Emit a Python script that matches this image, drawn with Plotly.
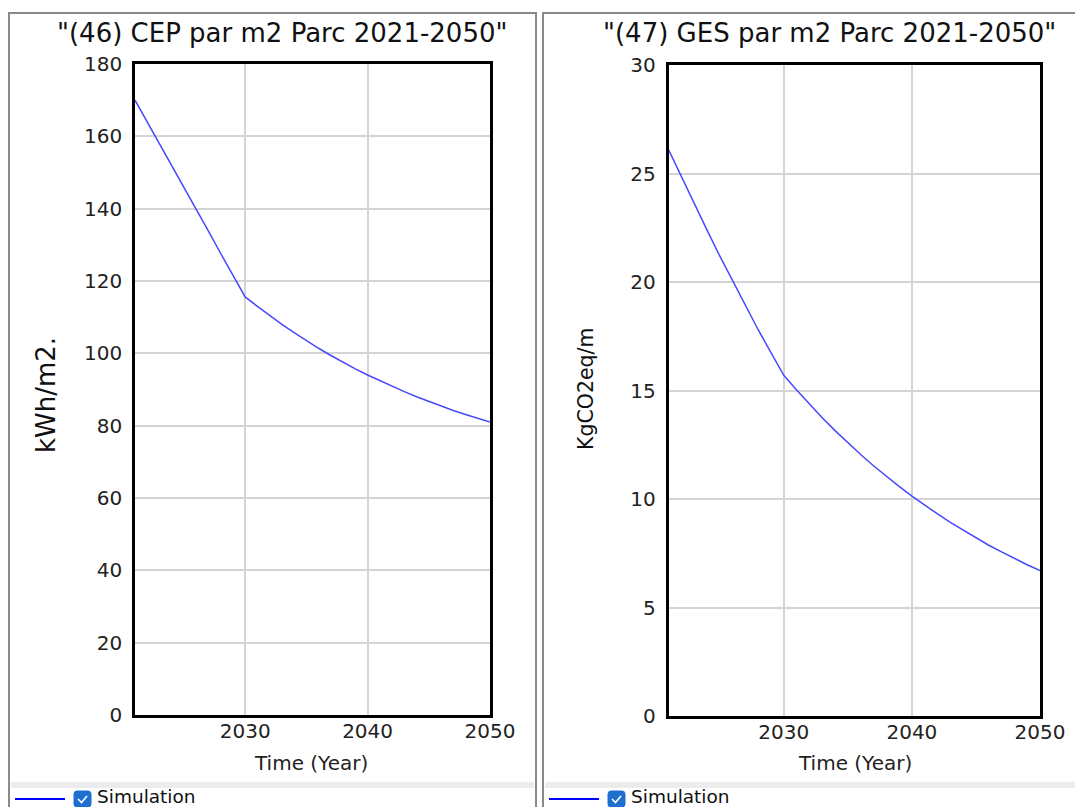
import plotly.graph_objects as go

# ---------------- data ----------------
years = list(range(2021, 2051))

cep_m2 = [170.0, 164.0, 158.0, 152.0, 146.2, 140.0, 133.8, 127.6, 121.5, 115.6,
          113.0, 110.4, 108.0, 105.7, 103.5, 101.4, 99.4, 97.5, 95.7, 94.0,
          92.4, 90.8, 89.4, 88.0, 86.7, 85.4, 84.2, 83.1, 82.0, 81.0]

ges_m2 = [26.1, 24.85, 23.6, 22.4, 21.2, 20.05, 18.9, 17.8, 16.75, 15.7,
          15.02, 14.36, 13.74, 13.15, 12.58, 12.05, 11.53, 11.04, 10.58, 10.13,
          9.71, 9.31, 8.92, 8.56, 8.21, 7.87, 7.56, 7.26, 6.97, 6.70]

titles = ['"(46) CEP par m2 Parc 2021-2050"', '"(47) GES par m2 Parc 2021-2050"']
y_titles = ["kWh/m2.", "KgCO2eq/m"]
x_title = "Time (Year)"
legend_label = "Simulation"
x_ticks = [2030, 2040, 2050]
y_ticks_cep = [0, 20, 40, 60, 80, 100, 120, 140, 160, 180]
y_ticks_ges = [0, 5, 10, 15, 20, 25, 30]

# ---------------- layout helpers ----------------
W, H = 1075, 807
FONT = "DejaVu Sans"


def px(x):
    return x / W


def py(y):
    return 1 - y / H


fig = go.Figure()

line_color = "rgb(72,72,255)"
fig.add_trace(go.Scatter(x=years, y=cep_m2, mode="lines", xaxis="x", yaxis="y",
                         line=dict(color=line_color, width=1.5), showlegend=False,
                         name=legend_label))
fig.add_trace(go.Scatter(x=years, y=ges_m2, mode="lines", xaxis="x2", yaxis="y2",
                         line=dict(color=line_color, width=1.5), showlegend=False,
                         name=legend_label))

axis_common = dict(
    showline=True, linecolor="black", linewidth=2.5, mirror=True,
    showgrid=True, gridcolor="#d4d4d4", gridwidth=1.5,
    zeroline=False, ticks="", automargin=False,
    tickfont=dict(family=FONT, size=20, color="#222222"),
)

fig.update_layout(
    width=W, height=H,
    margin=dict(l=0, r=0, t=0, b=0, pad=0, autoexpand=False),
    paper_bgcolor="white", plot_bgcolor="white",
    showlegend=False,
    xaxis=dict(domain=[px(135), px(490)], range=[2021, 2050], tickvals=x_ticks,
               anchor="y", ticklabelstandoff=-4, **axis_common),
    yaxis=dict(domain=[py(715), py(64)], range=[0, 180], tickvals=y_ticks_cep,
               anchor="x", ticklabelstandoff=6, **axis_common),
    xaxis2=dict(domain=[px(668.5), px(1040)], range=[2021, 2050], tickvals=x_ticks,
                anchor="y2", ticklabelstandoff=-4, **axis_common),
    yaxis2=dict(domain=[py(716), py(65)], range=[0, 30], tickvals=y_ticks_ges,
                anchor="x2", ticklabelstandoff=6, **axis_common),
)

shapes = []
annotations = []

panels = [
    dict(x0=9, x1=536, title_x=282, xt_x=311, yt_x=46, yt_y=395, yt_size=26, leg_x=15),
    dict(x0=543, x1=1090, title_x=829, xt_x=855, yt_x=586, yt_y=389, yt_size=20.5, leg_x=549),
]

for i, p in enumerate(panels):
    # panel frame
    shapes.append(dict(type="rect", xref="paper", yref="paper",
                       x0=px(p["x0"]), x1=px(p["x1"]), y0=py(830), y1=py(13),
                       line=dict(color="#8a8a8a", width=2), fillcolor="rgba(0,0,0,0)",
                       layer="below"))
    # legend separator band
    shapes.append(dict(type="rect", xref="paper", yref="paper",
                       x0=px(p["x0"] + 2), x1=px(p["x1"] - 2), y0=py(788), y1=py(782),
                       line=dict(width=0), fillcolor="#ececec", layer="below"))
    # legend line
    lx = p["leg_x"]
    shapes.append(dict(type="line", xref="paper", yref="paper",
                       x0=px(lx), x1=px(lx + 50), y0=py(799), y1=py(799),
                       line=dict(color="#0000ff", width=2)))
    # checkbox
    cx0, cx1, cy0, cy1, r = lx + 59, lx + 76, 791, 807, 3
    path = (f"M {px(cx0 + r)},{py(cy0)} L {px(cx1 - r)},{py(cy0)} "
            f"Q {px(cx1)},{py(cy0)} {px(cx1)},{py(cy0 + r)} "
            f"L {px(cx1)},{py(cy1 - r)} Q {px(cx1)},{py(cy1)} {px(cx1 - r)},{py(cy1)} "
            f"L {px(cx0 + r)},{py(cy1)} Q {px(cx0)},{py(cy1)} {px(cx0)},{py(cy1 - r)} "
            f"L {px(cx0)},{py(cy0 + r)} Q {px(cx0)},{py(cy0)} {px(cx0 + r)},{py(cy0)} Z")
    shapes.append(dict(type="path", xref="paper", yref="paper", path=path,
                       fillcolor="#1f6fd1", line=dict(color="#1f6fd1", width=1)))
    chk = (f"M {px(cx0 + 4)},{py(799)} L {px(cx0 + 7.5)},{py(802.5)} "
           f"L {px(cx0 + 13)},{py(796)}")
    shapes.append(dict(type="path", xref="paper", yref="paper", path=chk,
                       line=dict(color="white", width=1.6)))
    annotations.append(dict(xref="paper", yref="paper", x=px(lx + 82), y=py(807),
                            xanchor="left", yanchor="bottom", showarrow=False,
                            borderpad=0, borderwidth=0,
                            text=legend_label,
                            font=dict(family=FONT, size=18.5, color="#111111")))
    # title
    annotations.append(dict(xref="paper", yref="paper", x=px(p["title_x"]), y=py(33),
                            xanchor="center", yanchor="middle", showarrow=False,
                            text=titles[i],
                            font=dict(family=FONT, size=26, color="#111111")))
    # x-axis title
    annotations.append(dict(xref="paper", yref="paper", x=px(p["xt_x"]), y=py(763),
                            xanchor="center", yanchor="middle", showarrow=False,
                            text=x_title,
                            font=dict(family=FONT, size=20, color="#222222")))
    # y-axis title
    annotations.append(dict(xref="paper", yref="paper", x=px(p["yt_x"]), y=py(p["yt_y"]),
                            xanchor="center", yanchor="middle", showarrow=False,
                            textangle=-90, text=y_titles[i],
                            font=dict(family=FONT, size=p["yt_size"], color="#111111")))

fig.update_layout(shapes=shapes, annotations=annotations)

fig.write_html(
    "out.html",
    config={"displayModeBar": False},
    post_script="document.body.style.margin='0';document.body.style.overflow='hidden';",
)
